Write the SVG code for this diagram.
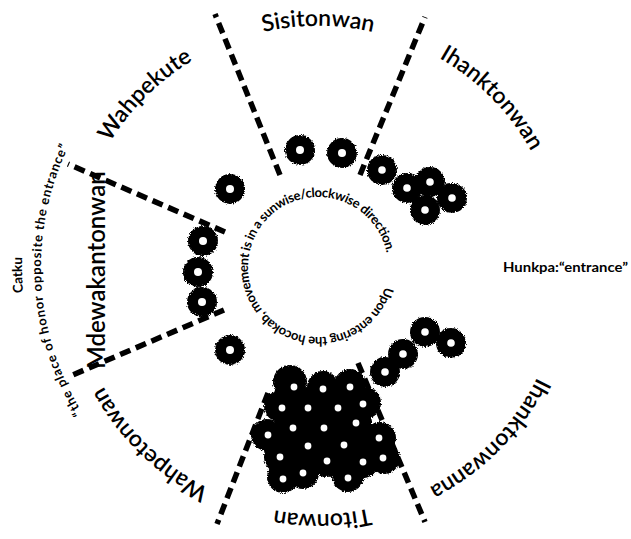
<svg xmlns="http://www.w3.org/2000/svg" xmlns:xlink="http://www.w3.org/1999/xlink" width="631" height="539" viewBox="0 0 631 539">
<style>
.lbl{font-family:Lato,"Open Sans","Liberation Sans",sans-serif;font-weight:600;font-size:23px;fill:#000;text-anchor:middle}
.sm{font-family:Lato,"Open Sans","Liberation Sans",sans-serif;font-weight:700;font-size:12.5px;fill:#000}
.dash{stroke:#000;stroke-width:5.5;stroke-dasharray:11 6;fill:none}
.tipi{fill:#000}
.hole{fill:#fff}
</style>
<defs>
<filter id="fuzz" x="-20%" y="-20%" width="140%" height="140%">
<feTurbulence type="fractalNoise" baseFrequency="0.9" numOctaves="2" seed="3" result="n"/>
<feDisplacementMap in="SourceGraphic" in2="n" scale="4" xChannelSelector="R" yChannelSelector="G"/>
</filter>
<path id="ring244" d="M562,270 A244,244 0 1 1 74,270 A244,244 0 1 1 562,270"/>
<path id="ring277" d="M595,267 A277,277 0 1 1 41,267 A277,277 0 1 1 595,267"/>
<path id="ring296" d="M614,267 A296,296 0 1 1 22,267 A296,296 0 1 1 614,267"/>
<path id="ring70" d="M388,267 A70,70 0 1 1 248,267 A70,70 0 1 1 388,267"/>
</defs>
<rect width="631" height="539" fill="#fff"/>

<g id="connectors">
<line class="dash" x1="280" y1="175" x2="215" y2="14"/>
<line class="dash" x1="360" y1="175" x2="425" y2="17"/>
<line class="dash" x1="225" y1="232" x2="68" y2="164"/>
<line class="dash" x1="224" y1="310" x2="68" y2="377"/>
<line class="dash" x1="268" y1="393" x2="217" y2="524"/>
<line class="dash" x1="358" y1="363" x2="425" y2="522"/>
</g>

<g id="tipis" filter="url(#fuzz)">
<g id="tipis-sisitonwan"><circle class="tipi" cx="300" cy="150" r="15"/><circle class="tipi" cx="342" cy="153" r="15"/></g>
<g id="tipis-wahpekute"><circle class="tipi" cx="230" cy="189" r="15"/></g>
<g id="tipis-mdewakantonwan"><circle class="tipi" cx="203" cy="241" r="15"/><circle class="tipi" cx="198" cy="272" r="15"/><circle class="tipi" cx="202" cy="302" r="15"/></g>
<g id="tipis-wahpetonwan"><circle class="tipi" cx="230" cy="350" r="15"/></g>
<g id="tipis-ihanktonwan"><circle class="tipi" cx="382" cy="170" r="15"/><circle class="tipi" cx="407" cy="188" r="15"/><circle class="tipi" cx="430" cy="182" r="15"/><circle class="tipi" cx="452" cy="198" r="15"/><circle class="tipi" cx="425" cy="210" r="15"/></g>
<g id="tipis-ihanktonwanna"><circle class="tipi" cx="425" cy="332" r="15"/><circle class="tipi" cx="451" cy="343" r="15"/><circle class="tipi" cx="403" cy="354" r="15"/><circle class="tipi" cx="385" cy="372" r="15"/></g>
<g id="tipis-titonwan">
<polygon class="tipi" points="294,387 323,389 350,387 363,404 379,438 383,458 363,462 348,478 303,473 283,479 280,457 268,435 282,408"/>
<circle class="tipi" cx="290" cy="382" r="17"/><circle class="tipi" cx="323" cy="387" r="16"/><circle class="tipi" cx="350" cy="385" r="16"/>
<circle class="tipi" cx="280" cy="406" r="16"/><circle class="tipi" cx="308" cy="408" r="16"/><circle class="tipi" cx="338" cy="408" r="16"/><circle class="tipi" cx="365" cy="403" r="16"/>
<circle class="tipi" cx="293" cy="428" r="16"/><circle class="tipi" cx="324" cy="428" r="16"/><circle class="tipi" cx="356" cy="423" r="16"/><circle class="tipi" cx="380" cy="438" r="16"/>
<circle class="tipi" cx="267" cy="435" r="16"/><circle class="tipi" cx="308" cy="446" r="16"/><circle class="tipi" cx="344" cy="445" r="16"/>
<circle class="tipi" cx="280" cy="457" r="16"/><circle class="tipi" cx="327" cy="461" r="16"/><circle class="tipi" cx="363" cy="462" r="16"/><circle class="tipi" cx="384" cy="458" r="16"/>
<circle class="tipi" cx="283" cy="477" r="16"/><circle class="tipi" cx="303" cy="473" r="16"/><circle class="tipi" cx="348" cy="476" r="16"/>
</g>
</g>

<g id="holes">
<circle class="hole" cx="300" cy="150" r="4"/><circle class="hole" cx="342" cy="153" r="4"/>
<circle class="hole" cx="230" cy="189" r="4"/>
<circle class="hole" cx="203" cy="241" r="4"/><circle class="hole" cx="198" cy="272" r="4"/><circle class="hole" cx="202" cy="302" r="4"/>
<circle class="hole" cx="230" cy="350" r="4"/>
<circle class="hole" cx="382" cy="170" r="3.8"/><circle class="hole" cx="407" cy="188" r="3.8"/><circle class="hole" cx="430" cy="182" r="3.8"/><circle class="hole" cx="452" cy="198" r="3.8"/><circle class="hole" cx="425" cy="210" r="3.8"/>
<circle class="hole" cx="425" cy="332" r="3.8"/><circle class="hole" cx="451" cy="343" r="3.8"/><circle class="hole" cx="403" cy="354" r="3.8"/><circle class="hole" cx="385" cy="372" r="3.8"/>
<circle class="hole" cx="294" cy="387" r="3.4"/><circle class="hole" cx="323" cy="389" r="3.4"/><circle class="hole" cx="350" cy="387" r="3.4"/>
<circle class="hole" cx="282" cy="408" r="3.4"/><circle class="hole" cx="308" cy="408" r="3.4"/><circle class="hole" cx="338" cy="408" r="3.4"/><circle class="hole" cx="363" cy="404" r="3.4"/>
<circle class="hole" cx="293" cy="428" r="3.4"/><circle class="hole" cx="324" cy="428" r="3.4"/><circle class="hole" cx="356" cy="423" r="3.4"/><circle class="hole" cx="379" cy="438" r="3.4"/>
<circle class="hole" cx="268" cy="435" r="3.4"/><circle class="hole" cx="308" cy="446" r="3.4"/><circle class="hole" cx="344" cy="445" r="3.4"/>
<circle class="hole" cx="280" cy="457" r="3.4"/><circle class="hole" cx="327" cy="461" r="3.4"/><circle class="hole" cx="363" cy="462" r="3.4"/><circle class="hole" cx="383" cy="458" r="3.4"/>
<circle class="hole" cx="283" cy="479" r="3.4"/><circle class="hole" cx="303" cy="473" r="3.4"/><circle class="hole" cx="348" cy="478" r="3.4"/>
</g>

<g id="band-labels">
<text class="lbl"><textPath href="#ring244" xlink:href="#ring244" startOffset="1149.8">Sisitonwan</textPath></text>
<text class="lbl"><textPath href="#ring244" xlink:href="#ring244" startOffset="1342.7">Ihanktonwan</textPath></text>
<text class="lbl"><textPath href="#ring244" xlink:href="#ring244" startOffset="959.5">Wahpekute</textPath></text>
<text class="lbl" style="font-size:24px" transform="translate(105,270) rotate(-90)" x="0" y="0">Mdewakantonwan</text>
<text class="lbl"><textPath href="#ring244" xlink:href="#ring244" startOffset="570.7">Wahpetonwan</textPath></text>
<text class="lbl"><textPath href="#ring244" xlink:href="#ring244" startOffset="379">Titonwan</textPath></text>
<text class="lbl"><textPath href="#ring244" xlink:href="#ring244" startOffset="189.5">Ihanktonwanna</textPath></text>
</g>

<g id="notes">
<text class="sm" style="text-anchor:middle;font-size:13.5px"><textPath href="#ring296" xlink:href="#ring296" startOffset="921.6">Catku</textPath></text>
<text class="sm" style="text-anchor:middle;font-size:13px"><textPath href="#ring277" xlink:href="#ring277" startOffset="855.2" textLength="278" lengthAdjust="spacing">“the place of honor opposite the entrance”</textPath></text>
<text class="sm" style="font-size:13px"><textPath href="#ring70" xlink:href="#ring70" startOffset="20" textLength="405" lengthAdjust="spacing">Upon entering the hocokab, movement is in a sunwise/clockwise direction.</textPath></text>
<text class="sm" x="503" y="272" textLength="125" lengthAdjust="spacingAndGlyphs">Hunkpa:“entrance”</text>
</g>
</svg>
